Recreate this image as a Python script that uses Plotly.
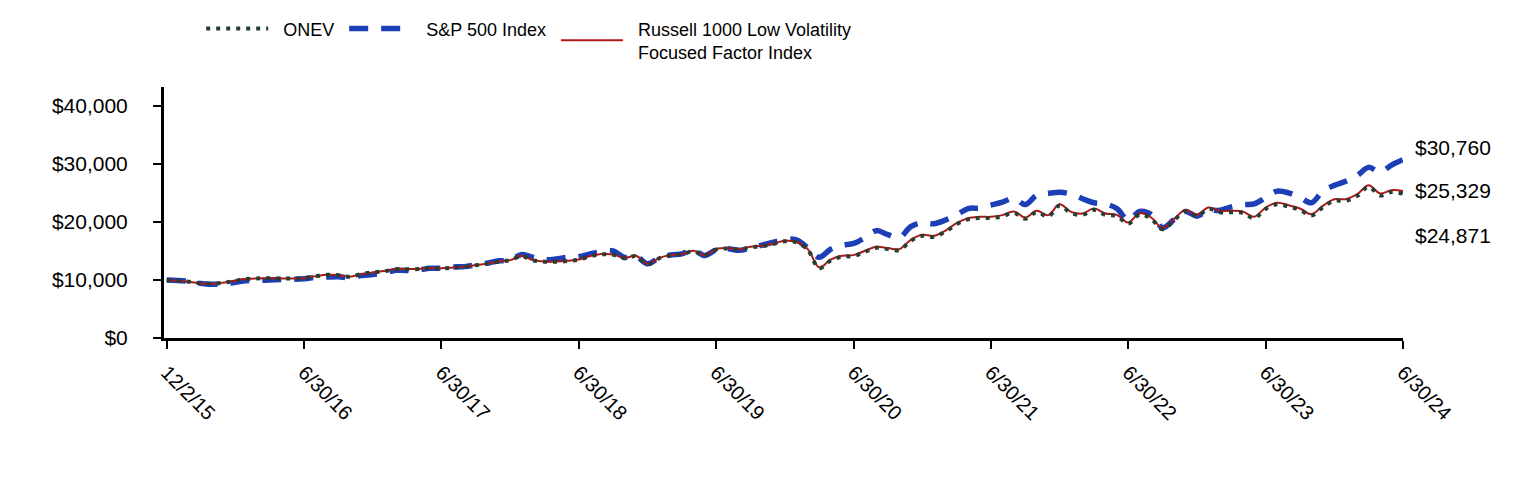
import plotly.graph_objects as go

# ---- data -------------------------------------------------------------
tick_labels = ["12/2/15", "6/30/16", "6/30/17", "6/30/18", "6/30/19",
               "6/30/20", "6/30/21", "6/30/22", "6/30/23", "6/30/24"]
y_tick_vals = [0, 10000, 20000, 30000, 40000]
y_tick_text = ["$0", "$10,000", "$20,000", "$30,000", "$40,000"]

# points per labelled period (12/2/15 -> 6/30/16 has 7 monthly steps, later 12)
steps_per_period = [7, 12, 12, 12, 12, 12, 12, 12, 12]

onev = [10000, 9760, 9340, 9580, 10130, 10290, 10240, 10330,
        10620, 10880, 10830, 10560, 11020, 11310, 11500, 11840, 11860, 11880, 12020, 11990,
        12120, 12270, 12530, 12800, 13150, 13400, 14100, 13380, 13150, 13140, 13260, 13490,
        14060, 14410, 14350, 13760, 14120, 12700, 13720, 14220, 14400, 14960, 14210, 15250,
        15410, 15240, 15630, 15800, 16190, 16660, 16480, 15200, 12000, 13350, 14020, 14120,
        14870, 15540, 15320, 15160, 16750, 17600, 17430, 18290, 19600, 20450, 20680, 20680,
        20960, 21570, 20550, 21690, 20950, 22820, 21510, 21230, 22080, 21230, 21000, 19690,
        21290, 20550, 18730, 20270, 21850, 21000, 22250, 21680, 21680, 21560, 20660, 22240,
        23030, 22640, 22070, 21110, 22520, 23660, 23650, 24500, 26020, 24570, 25150, 24871]

sp500 = [10000, 9800, 9300, 9350, 9850, 9950, 10100, 10200,
         10450, 10500, 10550, 10400, 10750, 10950, 11200, 11650, 11650, 11750, 12000, 12050,
         12250, 12300, 12600, 12900, 13300, 13400, 14400, 13900, 13500, 13600, 13900, 14000,
         14500, 14900, 15000, 13900, 14100, 12800, 13800, 14300, 14500, 15200, 14200, 15200,
         15400, 15100, 15500, 16000, 16500, 17000, 16900, 15500, 13900, 15300, 16000, 16300,
         17300, 18500, 17800, 17300, 19200, 19900, 19700, 20300, 21200, 22300, 22400, 22900,
         23400, 24100, 23000, 24600, 24900, 25100, 24800, 24000, 23300, 23100, 22300, 20300,
         21800, 21300, 19000, 20400, 21800, 21000, 22000, 22000, 22600, 23000, 23100, 24200,
         25300, 25000, 24200, 23300, 25300, 26300, 27000, 28000, 29400, 28600, 29800, 30760]

russell = [10000, 9750, 9350, 9600, 10150, 10300, 10250, 10350,
           10650, 10900, 10850, 10550, 11000, 11300, 11530, 11870, 11870, 11900, 12050, 12000,
           12150, 12300, 12560, 12840, 13180, 13420, 14160, 13420, 13180, 13180, 13300, 13530,
           14110, 14460, 14400, 13800, 14170, 12750, 13770, 14280, 14460, 15030, 14280, 15320,
           15490, 15320, 15710, 15890, 16280, 16750, 16580, 15320, 12150, 13500, 14170, 14280,
           15030, 15710, 15490, 15320, 16920, 17780, 17610, 18470, 19790, 20650, 20880, 20880,
           21170, 21790, 20760, 21910, 21170, 23060, 21740, 21450, 22310, 21450, 21220, 19900,
           21510, 20760, 18930, 20480, 22080, 21220, 22480, 21910, 21910, 21790, 20880, 22480,
           23290, 22890, 22310, 21340, 22770, 23920, 23920, 24780, 26330, 24890, 25470, 25329]

end_labels = ["$30,760", "$25,329", "$24,871"]

# ---- positions along the evenly spaced period axis ----------------------
xpos = [0.0]
for p, n in enumerate(steps_per_period):
    for k in range(1, n + 1):
        xpos.append(p + k / n)

FONT = "Arial, Liberation Sans, sans-serif"
NB = "\u00a0"

fig = go.Figure()
fig.add_trace(go.Scatter(x=xpos, y=sp500, name=NB * 2 + "S&P 500 Index" + NB, mode="lines",
                         line=dict(color="#1c3fb7", width=5.5, dash="19px,13px", shape="spline"),
                         legendrank=2))
fig.add_trace(go.Scatter(x=xpos, y=russell,
                         name=NB * 2 + "Russell 1000 Low Volatility<br>" + NB * 2 + "Focused Factor Index",
                         mode="lines",
                         line=dict(color="#b01717", width=2, shape="spline"),
                         legendrank=3))
fig.add_trace(go.Scatter(x=xpos, y=onev, name=NB * 2 + "ONEV" + NB, mode="lines",
                         line=dict(color="#253f31", width=4, dash="4px,6px", shape="spline"),
                         legendrank=1))

last_x = xpos[-1]
ann_vals = [sp500[-1], russell[-1], onev[-1]]
ann_shift = [12, 1, -42]
for txt, v, s in zip(end_labels, ann_vals, ann_shift):
    fig.add_annotation(x=last_x, y=v, text=txt, showarrow=False, xanchor="left",
                       yanchor="middle", xshift=10, yshift=s,
                       font=dict(family=FONT, size=21, color="#000000"))

fig.update_layout(
    width=1524, height=480, autosize=False,
    paper_bgcolor="white", plot_bgcolor="white",
    margin=dict(l=164, r=121, t=86, b=142),
    font=dict(family=FONT, size=18, color="#000000"),
    showlegend=True,
    legend=dict(orientation="h", x=0.03, xanchor="left", y=1.3, yanchor="top",
                font=dict(family=FONT, size=18, color="#000000"),
                itemwidth=62, traceorder="normal", bgcolor="rgba(0,0,0,0)"),
    xaxis=dict(range=[-0.02, 9.0], tickmode="array", tickvals=list(range(len(tick_labels))),
               ticktext=tick_labels, tickangle=45, showgrid=False, zeroline=False,
               showline=True, linecolor="#000000", linewidth=3,
               ticks="outside", ticklen=8, tickwidth=1.5, tickcolor="#000000",
               ticklabelstandoff=4,
               tickfont=dict(family=FONT, size=20, color="#000000")),
    yaxis=dict(range=[0, 43250], tickmode="array", tickvals=y_tick_vals, ticktext=y_tick_text,
               showgrid=False, zeroline=False,
               showline=True, linecolor="#000000", linewidth=3,
               ticks="outside", ticklen=8, tickwidth=1.5, tickcolor="#000000",
               ticklabelstandoff=21,
               tickfont=dict(family=FONT, size=21, color="#000000")),
)

fig.write_html("out.html", config={"displayModeBar": False},
               post_script="document.body.style.margin='0';document.body.style.overflow='hidden';")
